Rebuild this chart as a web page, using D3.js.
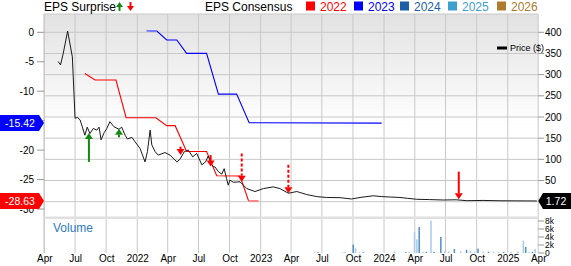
<!DOCTYPE html>
<html><head><meta charset="utf-8">
<script src="https://cdn.jsdelivr.net/npm/d3@7"></script>
<style>body{margin:0;background:#fff}svg{display:block;font-family:"Liberation Sans",Arial,sans-serif}</style>
</head><body><svg id="c" width="571" height="266"></svg>
<script>
// ---------- DATA ----------
const priceDates = ["2021-05-12","2021-05-19","2021-05-27","2021-06-09","2021-06-23","2021-07-01","2021-07-08","2021-07-16","2021-07-30","2021-08-06","2021-08-14","2021-08-24","2021-09-03","2021-09-10","2021-09-16","2021-09-25","2021-10-03","2021-10-12","2021-10-24","2021-11-08","2021-11-16","2021-11-26","2021-12-03","2021-12-16","2021-12-25","2022-01-09","2022-01-24","2022-01-31","2022-02-08","2022-02-13","2022-02-23","2022-03-04","2022-03-24","2022-04-08","2022-04-28","2022-05-07","2022-05-20","2022-06-01","2022-06-14","2022-06-26","2022-07-11","2022-07-22","2022-07-30","2022-08-09","2022-08-14","2022-08-19","2022-08-29","2022-09-08","2022-09-15","2022-09-22","2022-09-27","2022-10-02","2022-10-12","2022-11-01","2022-11-21","2022-12-15","2023-01-09","2023-02-07","2023-02-27","2023-03-24","2023-04-18","2023-05-17","2023-06-16","2023-07-15","2023-08-24","2023-09-27","2023-10-22","2023-11-30","2023-12-25","2024-01-20","2024-02-17","2024-03-10","2024-04-07","2024-05-15","2024-06-24","2024-08-01","2024-09-02","2024-10-20","2024-12-09","2025-01-25","2025-03-28"];
const priceValues = [331,323,350,403,342,197,199,193,157,176,161,173,169,176,146,163,173,189,177,171,176,157,148,152,142,126,94,118,169,134,118,110,116,110,94,100,118,122,106,114,87,94,108,87,83,82,71,65,78,55,39,51,46,47,31,24,31,35,31,20,24,17,12,10,9.5,6.4,10,14,12,11,10,8,5.7,5,4,4.5,2.4,3,2.2,2,1.72];

const eps2022Dates = ["2021-07-30","2021-08-29","2021-10-30","2021-11-29","2022-02-25","2022-03-29","2022-04-23","2022-05-27","2022-07-25","2022-08-24","2022-11-01","2022-11-26","2022-12-25"];
const eps2022Values = [-7.0,-8.1,-8.1,-14.5,-14.5,-15.85,-15.85,-20.25,-20.25,-24.35,-24.4,-28.6,-28.63];
const eps2023Dates = ["2022-01-29","2022-02-28","2022-03-29","2022-04-28","2022-05-27","2022-07-25","2022-08-29","2022-10-22","2022-11-28","2023-12-25"];
const eps2023Values = [0.27,0.2,-1.3,-1.3,-3.57,-3.57,-10.5,-10.5,-15.35,-15.42];

const surpriseDates  = ["2021-08-11","2021-11-08","2022-05-09","2022-08-06","2022-11-06","2023-03-24","2024-08-09"];
const surpriseFrom   = [94,152,130,110,114,87,71];
const surpriseTo     = [162,172,110,83,47,20,5.7];
const surpriseBeat   = [true,true,false,false,false,false,false];
const surpriseDashed = [false,false,false,false,true,true,false];

const volumeDates = ["2023-06-10","2023-06-20","2023-09-01","2023-09-08","2023-10-02","2023-10-09","2023-10-20","2023-11-01","2024-02-01","2024-03-05","2024-03-15","2024-03-31","2024-04-07","2024-04-14","2024-04-25","2024-05-05","2024-05-19","2024-05-28","2024-06-17","2024-06-28","2024-07-10","2024-07-27","2024-08-15","2024-09-01","2024-09-12","2024-09-25","2024-10-05","2024-10-20","2024-11-05","2024-11-20","2024-12-05","2024-12-20","2025-01-10","2025-01-30","2025-02-16","2025-02-23","2025-03-05","2025-03-15","2025-03-23"];
const volumeValues = [0.2,0.2,0.15,0.15,2.1,1.2,0.2,0.2,0.4,0.2,0.25,5.2,3.4,6.5,0.3,0.3,8.1,0.3,4.0,0.4,0.4,1.0,0.4,0.8,0.5,0.3,1.1,0.3,0.3,0.3,0.3,0.3,0.3,0.4,3.1,1.5,0.3,0.3,1.0];
const volumeDark   = [0,1,0,1,1,0,0,1,0,1,0,0,0,1,0,1,0,1,1,0,0,1,0,1,0,0,1,0,1,0,0,1,0,0,0,1,0,1,0];

const epsTicks = [0,-5,-10,-15,-20,-25,-30];
const priceTicks = [50,100,150,200,250,300,350,400];
const priceGrid = [0,50,100,150,200,250,300,350,400];
const volumeTicks = [0,2,4,6,8];
const legendYears = ["2022","2023","2024","2025","2026"];
const lastEps2023 = -15.42, lastEps2022 = -28.63, lastPrice = 1.72;

// ---------- STYLE ----------
const yearColors = ["#ff0000","#0000ff","#1a5fa8","#3ea0cf","#ad7a2e"];
const font = '"Liberation Sans",Arial,sans-serif';

// ---------- SCALES ----------
const parse = d3.utcParse("%Y-%m-%d");
const L = 44.3, R = 538.2, T = 14, MB = 216.5, VB = 253;
const x = d3.scaleUtc().domain([parse("2021-04-01"), parse("2025-04-01")]).range([L, R]);
const yP = d3.scaleLinear().domain([0,400]).range([201.7,32.3]);
const yE = d3.scaleLinear().domain([0,-30]).range([32.3,209]);
const yV = d3.scaleLinear().domain([0,8]).range([VB,221]);

const svg = d3.select("#c");
const defs = svg.append("defs");
const g = defs.append("linearGradient").attr("id","bg").attr("x1",0).attr("y1",0).attr("x2",0).attr("y2",1);
g.append("stop").attr("offset","0%").attr("stop-color","#e2e2e2");
g.append("stop").attr("offset","55%").attr("stop-color","#ffffff");
g.append("stop").attr("offset","100%").attr("stop-color","#ffffff");

svg.append("rect").attr("x",L).attr("y",T).attr("width",R-L).attr("height",MB-T).attr("fill","url(#bg)");

// grid
const qTicks = x.ticks(d3.utcMonth.every(3));
svg.append("g").selectAll("line").data(qTicks).join("line")
  .attr("x1",d=>x(d)).attr("x2",d=>x(d)).attr("y1",T).attr("y2",VB)
  .attr("stroke","#c8c8c8").attr("stroke-width",1);
svg.append("g").selectAll("line").data(priceGrid).join("line")
  .attr("x1",L).attr("x2",R).attr("y1",d=>yP(d)).attr("y2",d=>yP(d))
  .attr("stroke","#c8c8c8").attr("stroke-width",1);
svg.append("line").attr("x1",L).attr("x2",R).attr("y1",T).attr("y2",T).attr("stroke","#c8c8c8");
svg.append("line").attr("x1",L-0.3).attr("x2",L-0.3).attr("y1",T).attr("y2",VB).attr("stroke","#c8c8c8");
svg.append("rect").attr("x",L).attr("y",MB).attr("width",R-L).attr("height",2.5).attr("fill","#e0e0e0");

// left axis
const la = svg.append("g").attr("font-family",font).attr("font-size",10);
la.selectAll("line").data(epsTicks).join("line")
  .attr("x1",37).attr("x2",L).attr("y1",d=>yE(d)).attr("y2",d=>yE(d)).attr("stroke","#999");
la.selectAll("text").data(epsTicks).join("text")
  .attr("x",34).attr("y",d=>yE(d)+3.5).attr("text-anchor","end").text(d=>d);

// right axis
const ra = svg.append("g").attr("font-family",font).attr("font-size",10);
ra.selectAll("line").data(priceTicks).join("line")
  .attr("x1",R).attr("x2",544).attr("y1",d=>yP(d)).attr("y2",d=>yP(d)).attr("stroke","#999");
ra.selectAll("text").data(priceTicks).join("text")
  .attr("x",545).attr("y",d=>yP(d)+3.5).text(d=>d);
const va = svg.append("g").attr("font-family",font).attr("font-size",8.5);
va.selectAll("line").data(volumeTicks).join("line")
  .attr("x1",R).attr("x2",544).attr("y1",d=>yV(d)).attr("y2",d=>yV(d)).attr("stroke","#999");
va.selectAll("text").data(volumeTicks).join("text")
  .attr("x",545).attr("y",d=>yV(d)+3).text(d=>d===0?"0":d+"k");

// x axis
const fmt = d => d.getUTCMonth()===0 ? d3.utcFormat("%Y")(d) : d3.utcFormat("%b")(d);
const xa = svg.append("g").attr("transform",`translate(0,${VB})`)
  .call(d3.axisBottom(x).tickValues(qTicks).tickFormat(fmt).tickSize(0).tickPadding(1.5));
xa.select(".domain").remove();
xa.selectAll("text").attr("font-family",font).attr("font-size",10).attr("fill","#000");

// volume
svg.append("text").attr("x",53).attr("y",232).attr("font-family",font).attr("font-size",12)
  .attr("fill","#2f7cc0").text("Volume");
svg.append("g").selectAll("rect").data(volumeDates).join("rect")
  .attr("x",(d)=>x(parse(d))-0.75).attr("width",1.5)
  .attr("y",(d,i)=>yV(volumeValues[i])).attr("height",(d,i)=>yV(0)-yV(volumeValues[i]))
  .attr("fill",(d,i)=>volumeDark[i]?"#4f8fca":"#a9cbe8");

// consensus lines
function epsLine(dates, vals, color){
  const pts = dates.map((d,i)=>[parse(d), vals[i]]);
  svg.append("path").datum(pts)
    .attr("d", d3.line().x(p=>x(p[0])).y(p=>yE(p[1])))
    .attr("fill","none").attr("stroke",color).attr("stroke-width",1.1);
  return pts;
}
const p22 = epsLine(eps2022Dates, eps2022Values, yearColors[0]);
const p23 = epsLine(eps2023Dates, eps2023Values, yearColors[1]);
// lighter (partial) segments
svg.append("path").datum(p22.slice(-2)).attr("d", d3.line().x(p=>x(p[0])).y(p=>yE(p[1])))
  .attr("fill","none").attr("stroke","#ff8c8c").attr("stroke-width",1.6);
svg.append("path").datum(p23.slice(0,2)).attr("d", d3.line().x(p=>x(p[0])).y(p=>yE(p[1])))
  .attr("fill","none").attr("stroke","#8080ff").attr("stroke-width",1.6);

// price line
const pp = priceDates.map((d,i)=>[parse(d), priceValues[i]]);
svg.append("path").datum(pp)
  .attr("d", d3.line().x(p=>x(p[0])).y(p=>yP(p[1])))
  .attr("fill","none").attr("stroke","#1a1a1a").attr("stroke-width",1);

// surprise arrows
surpriseDates.forEach((d,i)=>{
  const cx = x(parse(d)), y0 = yP(surpriseFrom[i]), y1 = yP(surpriseTo[i]);
  const col = surpriseBeat[i] ? "#128a12" : "#ff0000";
  const dir = y1 < y0 ? -1 : 1; // -1 up
  const hh = 6, hw = 4;
  svg.append("line").attr("x1",cx).attr("x2",cx).attr("y1",y0).attr("y2",y1 - dir*hh)
    .attr("stroke",col).attr("stroke-width",2)
    .attr("stroke-dasharray", surpriseDashed[i] ? "3,2" : null);
  svg.append("path").attr("d",`M${cx},${y1}L${cx-hw},${y1-dir*hh}L${cx+hw},${y1-dir*hh}Z`).attr("fill",col);
});

// top legend
const tl = svg.append("g").attr("font-family",font).attr("font-size",12);
tl.append("text").attr("x",44).attr("y",10.5).text("EPS Surprise");
tl.append("line").attr("x1",119.5).attr("x2",119.5).attr("y1",11).attr("y2",6).attr("stroke","#128a12").attr("stroke-width",2);
tl.append("path").attr("d","M119.5,2L116,7L123,7Z").attr("fill","#128a12");
tl.append("line").attr("x1",130.5).attr("x2",130.5).attr("y1",2).attr("y2",7).attr("stroke","#ff0000").attr("stroke-width",2);
tl.append("path").attr("d","M130.5,11L127,6L134,6Z").attr("fill","#ff0000");
tl.append("text").attr("x",205).attr("y",10.5).text("EPS Consensus");
const legX = [306,354,400,448,497];
legendYears.forEach((yr,i)=>{
  tl.append("rect").attr("x",legX[i]).attr("y",1.5).attr("width",9).attr("height",9).attr("fill",yearColors[i]);
  tl.append("text").attr("x",legX[i]+14).attr("y",10.5).attr("fill",yearColors[i]).text(yr);
});
// price legend
svg.append("rect").attr("x",497).attr("y",46.5).attr("width",10).attr("height",3).attr("fill","#000");
svg.append("text").attr("x",510).attr("y",51).attr("font-family",font).attr("font-size",9).text("Price ($)");

// value boxes
function leftBox(v, color){
  const cy = yE(v);
  svg.append("path").attr("d",`M0,${cy-8}L39,${cy-8}L44,${cy}L39,${cy+8}L0,${cy+8}Z`).attr("fill",color);
  svg.append("text").attr("x",20).attr("y",cy+3.6).attr("text-anchor","middle").attr("fill","#fff")
    .attr("font-family",font).attr("font-size",10.5).text(v.toFixed(2));
}
leftBox(lastEps2023, yearColors[1]);
leftBox(lastEps2022, yearColors[0]);
{
  const cy = yP(lastPrice);
  svg.append("path").attr("d",`M${R},${cy}L543,${cy-8}L571,${cy-8}L571,${cy+8}L543,${cy+8}Z`).attr("fill","#000");
  svg.append("text").attr("x",556).attr("y",cy+3.6).attr("text-anchor","middle").attr("fill","#fff")
    .attr("font-family",font).attr("font-size",10.5).text(lastPrice.toFixed(2));
}
</script></body></html>
